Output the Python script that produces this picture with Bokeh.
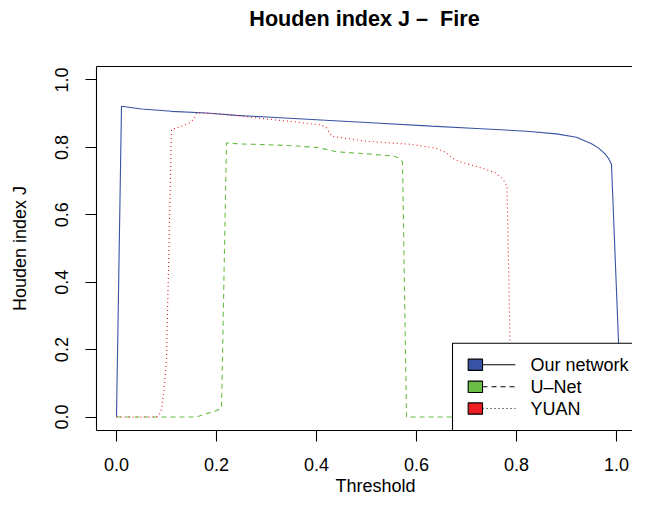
from bokeh.plotting import figure
from bokeh.models import Range1d, FixedTicker, LinearAxis, Title
from bokeh.core.properties import value
from bokeh.embed import file_html
from bokeh.resources import INLINE

# ---------------- data ----------------
title_text = "Houden index J \u2013\u00a0 Fire"
x_label = "Threshold"
y_label = "Houden index J"

x_ticks = [0.0, 0.2, 0.4, 0.6, 0.8, 1.0]
x_tick_labels = ["0.0", "0.2", "0.4", "0.6", "0.8", "1.0"]
y_ticks = [0.0, 0.2, 0.4, 0.6, 0.8, 1.0]
y_tick_labels = ["0.0", "0.2", "0.4", "0.6", "0.8", "1.0"]

series_names = ["Our network", "U\u2013Net", "YUAN"]
series_colors = ["#3953A4", "#69BD45", "#ED1F24"]

thr_ours = [0.00, 0.01, 0.05, 0.11, 0.18, 0.24, 0.30, 0.40, 0.50, 0.63, 0.72,
            0.82, 0.88, 0.92, 0.95, 0.965, 0.978, 0.985, 0.99, 1.01]
j_ours = [0.000, 0.922, 0.914, 0.907, 0.902, 0.895, 0.890, 0.882, 0.874, 0.863, 0.856,
          0.848, 0.840, 0.830, 0.811, 0.797, 0.779, 0.765, 0.749, 0.000]

thr_unet = [0.00, 0.16, 0.17, 0.18, 0.19, 0.20, 0.21, 0.22, 0.25, 0.30, 0.35, 0.40,
            0.42, 0.44, 0.50, 0.555, 0.565, 0.572, 0.58, 1.00]
j_unet = [0.000, 0.000, 0.005, 0.010, 0.014, 0.019, 0.026, 0.813, 0.810, 0.808, 0.805, 0.800,
          0.794, 0.787, 0.781, 0.774, 0.769, 0.757, 0.000, 0.000]

thr_yuan = [0.00, 0.08, 0.085, 0.09, 0.095, 0.10, 0.11, 0.12, 0.13, 0.145, 0.155, 0.16,
            0.20, 0.25, 0.30, 0.35, 0.41, 0.42, 0.43, 0.50, 0.59, 0.64, 0.66, 0.67,
            0.69, 0.73, 0.757, 0.773, 0.781, 0.79, 1.00]
j_yuan = [0.000, 0.000, 0.006, 0.022, 0.080, 0.170, 0.853, 0.857, 0.863, 0.872, 0.884, 0.902,
          0.900, 0.893, 0.884, 0.877, 0.866, 0.858, 0.833, 0.818, 0.809, 0.797, 0.784, 0.769,
          0.756, 0.739, 0.725, 0.706, 0.685, 0.000, 0.000]

# ---------------- styles ----------------
FONT = "Liberation Sans"
LW = 1.1
dashes = ["solid", "5 4", "1 3"]

p = figure(width=632, height=501,
           x_range=Range1d(-0.04, 1.032), y_range=Range1d(-0.04, 1.04),
           output_backend="svg", toolbar_location=None,
           min_border_left=96, min_border_right=0,
           min_border_top=66, min_border_bottom=71)
p.outline_line_color = None
p.xgrid.visible = False
p.ygrid.visible = False
p.background_fill_color = "white"
p.border_fill_color = "white"

for ax, ticks, labels in ((p.xaxis[0], x_ticks, x_tick_labels), (p.yaxis[0], y_ticks, y_tick_labels)):
    ax.ticker = FixedTicker(ticks=ticks)
    ax.major_label_overrides = {t: l for t, l in zip(ticks, labels)}
    ax.minor_tick_line_color = None
    ax.major_tick_in = 0
    ax.major_tick_out = 11
    ax.major_tick_line_color = "black"
    ax.major_tick_line_width = LW
    ax.axis_line_color = "black"
    ax.axis_line_width = LW
    ax.major_label_text_font = FONT
    ax.major_label_text_font_size = "18px"
    ax.major_label_text_color = "black"
p.xaxis[0].major_label_standoff = 16
p.yaxis[0].major_label_standoff = 17
p.yaxis[0].major_label_orientation = "vertical"

# y-axis label
p.yaxis[0].axis_label = y_label
p.yaxis[0].axis_label_standoff = 23
p.yaxis[0].axis_label_text_font = FONT
p.yaxis[0].axis_label_text_font_style = "normal"
p.yaxis[0].axis_label_text_font_size = "18px"
p.yaxis[0].axis_label_text_color = "black"

# top box line, carrying the main title as its label
top_axis = LinearAxis(ticker=FixedTicker(ticks=[]), major_tick_out=0, major_tick_in=0,
                      minor_tick_out=0, minor_tick_in=0, axis_line_color="black",
                      axis_line_width=LW, major_label_text_font_size="0px",
                      major_label_standoff=0,
                      axis_label=title_text, axis_label_standoff=36,
                      axis_label_text_font=FONT, axis_label_text_font_style="bold",
                      axis_label_text_font_size="21.6px", axis_label_text_color="black")
p.add_layout(top_axis, "above")

# x-axis label
p.add_layout(Title(text=x_label, align="left", offset=239, standoff=0,
                   text_font=FONT, text_font_style="normal", text_font_size="18px",
                   text_color="black"), "below")

# ---------------- curves ----------------
all_x = [thr_ours, thr_unet, thr_yuan]
all_y = [j_ours, j_unet, j_yuan]
for xs, ys, col, dsh in zip(all_x, all_y, series_colors, dashes):
    p.line(xs, ys, line_color=col, line_width=LW, line_dash=dsh)

# ---------------- legend (drawn by hand, R style) ----------------
leg_left, leg_right, leg_bottom, leg_top = 0.672, 1.06, -0.04, 0.219
p.quad(left=[leg_left], right=[leg_right], bottom=[leg_bottom], top=[leg_top],
       fill_color="white", line_color="black", line_width=LW)
rows = [0.155, 0.0897, 0.0252]
sq_x, sq_w, sq_h = 0.7177, 0.0287, 0.0335
ln_x0, ln_x1 = 0.732, 0.7977
txt_x = 0.828
for r, dsh in zip(rows, dashes):
    p.line([ln_x0, ln_x1], [r, r], line_color="black", line_width=LW, line_dash=dsh)
p.rect(x=[sq_x] * 3, y=rows, width=sq_w, height=sq_h, fill_color=series_colors,
       line_color="black", line_width=LW)
p.text(x=[txt_x] * 3, y=rows, text=series_names, text_font=value(FONT),
       text_font_size="18px", text_baseline="middle", text_align="left", text_color="black")

open("out.html", "w").write(file_html(p, INLINE))
